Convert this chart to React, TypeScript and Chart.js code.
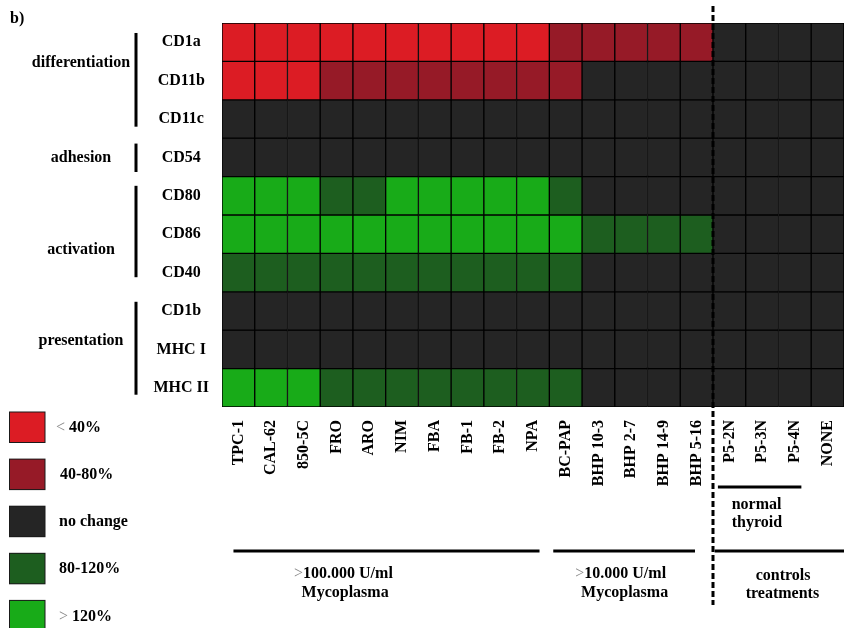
import { useEffect, useRef } from 'react';
import { Chart, registerables } from 'chart.js';

Chart.register(...registerables);

// ---------- data ----------
const columns = [
  'TPC-1', 'CAL-62', '850-5C', 'FRO', 'ARO', 'NIM', 'FBA', 'FB-1', 'FB-2', 'NPA',
  'BC-PAP', 'BHP 10-3', 'BHP 2-7', 'BHP 14-9', 'BHP 5-16', 'P5-2N', 'P5-3N', 'P5-4N', 'NONE',
];
const markers = ['CD1a', 'CD11b', 'CD11c', 'CD54', 'CD80', 'CD86', 'CD40', 'CD1b', 'MHC I', 'MHC II'];
const levelLabels = ['< 40%', '40-80%', 'no change', '80-120%', '> 120%'];

// level codes: 0 "< 40%", 1 "40-80%", 2 "no change", 3 "80-120%", 4 "> 120%"
const cd1a = [0, 0, 0, 0, 0, 0, 0, 0, 0, 0, 1, 1, 1, 1, 1, 2, 2, 2, 2];
const cd11b = [0, 0, 0, 1, 1, 1, 1, 1, 1, 1, 1, 2, 2, 2, 2, 2, 2, 2, 2];
const cd11c = [2, 2, 2, 2, 2, 2, 2, 2, 2, 2, 2, 2, 2, 2, 2, 2, 2, 2, 2];
const cd54 = [2, 2, 2, 2, 2, 2, 2, 2, 2, 2, 2, 2, 2, 2, 2, 2, 2, 2, 2];
const cd80 = [4, 4, 4, 3, 3, 4, 4, 4, 4, 4, 3, 2, 2, 2, 2, 2, 2, 2, 2];
const cd86 = [4, 4, 4, 4, 4, 4, 4, 4, 4, 4, 4, 3, 3, 3, 3, 2, 2, 2, 2];
const cd40 = [3, 3, 3, 3, 3, 3, 3, 3, 3, 3, 3, 2, 2, 2, 2, 2, 2, 2, 2];
const cd1b = [2, 2, 2, 2, 2, 2, 2, 2, 2, 2, 2, 2, 2, 2, 2, 2, 2, 2, 2];
const mhc1 = [2, 2, 2, 2, 2, 2, 2, 2, 2, 2, 2, 2, 2, 2, 2, 2, 2, 2, 2];
const mhc2 = [4, 4, 4, 3, 3, 3, 3, 3, 3, 3, 3, 2, 2, 2, 2, 2, 2, 2, 2];
const levels = [cd1a, cd11b, cd11c, cd54, cd80, cd86, cd40, cd1b, mhc1, mhc2];

const groupNames = ['differentiation', 'adhesion', 'activation', 'presentation'];
const groupFirstRow = [0, 3, 4, 7];
const groupLastRow = [2, 3, 6, 9];

// ---------- styles / annotation layout ----------
const palette = ['#DC1C24', '#961A27', '#252525', '#1D5E1F', '#18AB18'];
const FONT = '"Liberation Serif", "Times New Roman", Times, serif';
const CANVAS_W = 860;
const CANVAS_H = 628;

// bracket geometry in row units (line start, line end, label centre)
const groupLineFrom = [0.26, 3.14, 4.24, 7.26];
const groupLineTo = [2.7, 3.88, 6.62, 9.68];
const groupLabelAt = [1.05, 3.5, 5.9, 8.27];

type Part = { t: string; bold?: boolean; color?: string };

function drawParts(ctx: CanvasRenderingContext2D, parts: Part[], x: number, y: number, align: 'left' | 'center') {
  let total = 0;
  const widths = parts.map((p) => {
    ctx.font = `${p.bold === false ? '' : 'bold '}16px ${FONT}`;
    const w = ctx.measureText(p.t).width;
    total += w;
    return w;
  });
  let cx = align === 'center' ? x - total / 2 : x;
  ctx.textAlign = 'left';
  ctx.textBaseline = 'middle';
  parts.forEach((p, i) => {
    ctx.font = `${p.bold === false ? '' : 'bold '}16px ${FONT}`;
    ctx.fillStyle = p.color || '#000';
    ctx.fillText(p.t, cx, y);
    cx += widths[i];
  });
}

function legendParts(label: string): Part[] {
  if (label.startsWith('<') || label.startsWith('>')) {
    return [
      { t: label[0], bold: false, color: '#8a8a8a' },
      { t: label.slice(1), bold: true },
    ];
  }
  return [{ t: label, bold: true }];
}

const annotations = {
  id: 'annotations',
  afterDraw(chart: any) {
    const ctx: CanvasRenderingContext2D = chart.ctx;
    const xs = chart.scales.x;
    const ys = chart.scales.y;
    const cw = (xs.right - xs.left) / columns.length;
    const colX = (c: number) => xs.left + c * cw;
    const rowY = (r: number) => ys.getPixelForValue(r);
    ctx.save();

    // panel letter
    ctx.fillStyle = '#000';
    ctx.font = `bold 16px ${FONT}`;
    ctx.textAlign = 'left';
    ctx.textBaseline = 'alphabetic';
    ctx.fillText('b)', 10, 23);

    // row group brackets
    groupNames.forEach((name, i) => {
      ctx.fillStyle = '#000';
      const y0 = rowY(groupLineFrom[i]);
      const y1 = rowY(groupLineTo[i]);
      ctx.fillRect(134.5, y0, 3, y1 - y0);
      ctx.font = `bold 16px ${FONT}`;
      ctx.textAlign = 'center';
      ctx.textBaseline = 'middle';
      ctx.fillText(name, 81, rowY(groupLabelAt[i]));
    });

    // legend
    levelLabels.forEach((label, i) => {
      const top = 411.5 + i * 47.1;
      ctx.fillStyle = '#1a1a1a';
      ctx.fillRect(9, top, 36.5, 31.5);
      ctx.fillStyle = palette[i];
      ctx.fillRect(10, top + 1, 34.5, 29.5);
      const x = label.startsWith('<') ? 56 : label.startsWith('>') ? 59 : label.startsWith('4') ? 60 : 59;
      drawParts(ctx, legendParts(label), x, top + 16.5, 'left');
    });

    // bottom group lines
    ctx.fillStyle = '#000';
    const hline = (c0: number, c1: number, y: number) => {
      const x0 = colX(c0);
      const x1 = colX(c1);
      ctx.fillRect(x0, y - 1.5, x1 - x0, 3);
    };
    hline(0.35, 9.7, 551);
    hline(10.12, 14.45, 551);
    hline(15.05, 19.5, 551);
    hline(15.15, 17.7, 487);

    drawParts(ctx, [{ t: '>', bold: false, color: '#8a8a8a' }, { t: '100.000 U/ml' }], colX(3.71), 574, 'center');
    drawParts(ctx, [{ t: 'Mycoplasma' }], colX(3.76), 593, 'center');
    drawParts(ctx, [{ t: '>', bold: false, color: '#8a8a8a' }, { t: '10.000 U/ml' }], colX(12.18), 574, 'center');
    drawParts(ctx, [{ t: 'Mycoplasma' }], colX(12.3), 593, 'center');
    drawParts(ctx, [{ t: 'normal' }], colX(15.57), 505, 'left');
    drawParts(ctx, [{ t: 'thyroid' }], colX(15.57), 523, 'left');
    drawParts(ctx, [{ t: 'controls' }], colX(17.14), 576, 'center');
    drawParts(ctx, [{ t: 'treatments' }], colX(17.12), 594, 'center');

    // dashed separator between cell lines and controls
    ctx.strokeStyle = '#000';
    ctx.lineWidth = 3;
    ctx.setLineDash([6, 3]);
    ctx.beginPath();
    ctx.moveTo(colX(15), 6);
    ctx.lineTo(colX(15), 605);
    ctx.stroke();
    ctx.setLineDash([]);

    ctx.restore();
  },
};

export default function App() {
  const ref = useRef<HTMLCanvasElement | null>(null);

  useEffect(() => {
    if (!ref.current) return;
    const datasets = levels.map((row, r) => ({
      label: markers[r],
      data: columns.map(() => [r, r + 1]),
      backgroundColor: row.map((v) => palette[v]),
      borderColor: '#000',
      borderWidth: 1,
      borderSkipped: false,
      barPercentage: 1,
      categoryPercentage: 1,
      grouped: false,
    }));

    const chart = new Chart(ref.current, {
      type: 'bar',
      data: { labels: columns, datasets: datasets as any },
      options: {
        responsive: false,
        animation: false,
        devicePixelRatio: 1,
        layout: { padding: { top: 23, right: CANVAS_W - 851, left: 0, bottom: 0 } },
        plugins: {
          legend: { display: false },
          tooltip: { enabled: false },
        },
        scales: {
          x: {
            type: 'category',
            offset: true,
            grid: { display: false, drawTicks: false },
            border: { display: false },
            afterFit: (scale: any) => {
              scale.height = CANVAS_H - 407;
            },
            ticks: {
              autoSkip: false,
              minRotation: 90,
              maxRotation: 90,
              padding: 13,
              color: '#000',
              font: { family: FONT, size: 16, weight: 'bold' },
            },
          },
          y: {
            type: 'linear',
            min: 0,
            max: markers.length,
            reverse: true,
            grid: { display: false, drawTicks: false },
            border: { display: false },
            afterFit: (scale: any) => {
              scale.width = 222;
            },
            afterBuildTicks: (scale: any) => {
              scale.ticks = markers.map((_, i) => ({ value: i + 0.5 }));
            },
            ticks: {
              crossAlign: 'center',
              padding: 13,
              color: '#000',
              font: { family: FONT, size: 16, weight: 'bold' },
              callback: (value: any) => markers[Math.floor(Number(value))] ?? '',
            },
          },
        },
      } as any,
      plugins: [annotations],
    });
    return () => chart.destroy();
  }, []);

  return (
    <div
      style={{
        position: 'absolute',
        left: 0,
        top: 0,
        width: 844,
        height: 628,
        overflow: 'hidden',
        background: '#fff',
      }}
    >
      <canvas ref={ref} width={CANVAS_W} height={CANVAS_H} style={{ display: 'block', width: CANVAS_W, height: CANVAS_H }} />
    </div>
  );
}
